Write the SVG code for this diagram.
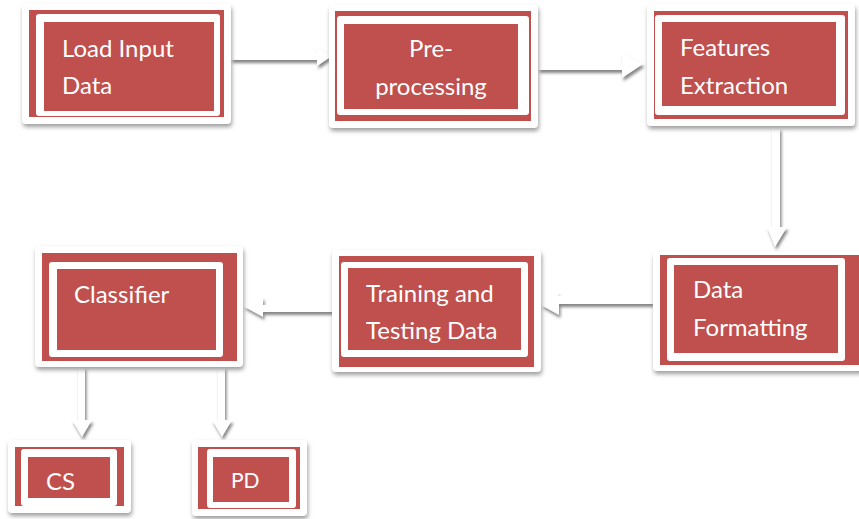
<svg xmlns="http://www.w3.org/2000/svg" width="859" height="519" viewBox="0 0 859 519">
  <defs>
    <filter id="cardShadow" x="-10%" y="-10%" width="125%" height="130%">
      <feDropShadow dx="1" dy="3" stdDeviation="2" flood-color="#7f7f7f" flood-opacity="0.75"/>
    </filter>
    <filter id="arrowShadow" x="-30%" y="-50%" width="160%" height="220%">
      <feDropShadow dx="1.5" dy="3" stdDeviation="1.8" flood-color="#6f6f6f" flood-opacity="0.85"/>
    </filter>
  </defs>
  <style>
    .card { fill: #ffffff; filter: url(#cardShadow); }
    .red { fill: #c0504d; }
    .frame { fill: #ffffff; }
    .lbl { font-family: Lato, "Liberation Sans", sans-serif; font-size: 24px; fill: #ffffff; }
    .arrow { fill: #ffffff; filter: url(#arrowShadow); }
  </style>

  <!-- connectors -->
  <g id="connectors">
    <path class="arrow" d="M231,53 H317 V47 L332,56 L317,66 V60 H231 Z"/>
    <path class="arrow" d="M538,62 H622 V53 L643,64 L622,78 V70 H538 Z"/>
    <path class="arrow" d="M772,128 V227 H767 L775,247 L787,227 H780 V128 Z"/>
    <path class="arrow" d="M653,296 H558 V292 L541,305 L559,315 V304 H653 Z"/>
    <path class="arrow" d="M333,305 H263 V297 L243,306 L263,317 V312 H333 Z"/>
    <path class="arrow" d="M78,367 V420 H72 L82,437 L92,420 H85 V367 Z"/>
    <path class="arrow" d="M218,367 V420 H212 L222,437 L232,420 H225 V367 Z"/>
  </g>

  <g id="load-input">
    <rect class="card" x="22" y="4" width="209" height="120" rx="4"/>
    <rect class="red" x="29" y="10" width="195" height="107"/>
    <rect class="frame" x="36" y="14" width="184" height="102" rx="3"/>
    <rect class="red" x="44" y="22" width="170" height="89"/>
    <text class="lbl" x="62" y="57">Load Input</text>
    <text class="lbl" x="62" y="94">Data</text>
  </g>

  <g id="pre-processing">
    <rect class="card" x="329" y="5" width="209" height="123" rx="4"/>
    <rect class="red" x="335" y="11" width="196" height="110"/>
    <rect class="frame" x="337" y="16" width="192" height="99" rx="3"/>
    <rect class="red" x="344" y="24" width="174" height="85"/>
    <text class="lbl" x="431" y="57" text-anchor="middle">Pre-</text>
    <text class="lbl" x="431" y="95" text-anchor="middle">processing</text>
  </g>

  <g id="features-extraction">
    <rect class="card" x="647" y="4" width="208" height="122" rx="4"/>
    <rect class="red" x="654" y="11" width="194" height="108"/>
    <rect class="frame" x="655" y="15" width="190" height="100" rx="3"/>
    <rect class="red" x="662" y="22" width="174" height="84"/>
    <text class="lbl" x="680" y="56">Features</text>
    <text class="lbl" x="680" y="94">Extraction</text>
  </g>

  <g id="data-formatting">
    <rect class="card" x="653" y="252" width="210" height="119" rx="4"/>
    <rect class="red" x="660" y="255" width="199" height="110"/>
    <rect class="frame" x="667" y="258" width="178" height="103" rx="3"/>
    <rect class="red" x="674" y="265" width="164" height="88"/>
    <text class="lbl" x="693" y="298">Data</text>
    <text class="lbl" x="693" y="336">Formatting</text>
  </g>

  <g id="training-testing">
    <rect class="card" x="332" y="250" width="209" height="122" rx="4"/>
    <rect class="red" x="339" y="256" width="195" height="111"/>
    <rect class="frame" x="341" y="262" width="187" height="95" rx="3"/>
    <rect class="red" x="348" y="268" width="173" height="82"/>
    <text class="lbl" x="366" y="302">Training and</text>
    <text class="lbl" x="366" y="339">Testing Data</text>
  </g>

  <g id="classifier">
    <rect class="card" x="35" y="246" width="208" height="121" rx="4"/>
    <rect class="red" x="42" y="253" width="195" height="108"/>
    <rect class="frame" x="49" y="262" width="174" height="95" rx="3"/>
    <rect class="red" x="57" y="269" width="159" height="81"/>
    <text class="lbl" x="74" y="303">Classifier</text>
  </g>

  <g id="cs">
    <rect class="card" x="8" y="440" width="123" height="73" rx="4"/>
    <rect class="red" x="15" y="447" width="109" height="59"/>
    <rect class="frame" x="21" y="449" width="96" height="57" rx="3"/>
    <rect class="red" x="28" y="457" width="82" height="41"/>
    <text class="lbl" x="46" y="490">CS</text>
  </g>

  <g id="pd">
    <rect class="card" x="192" y="440" width="115" height="76" rx="4"/>
    <rect class="red" x="198" y="447" width="102" height="62"/>
    <rect class="frame" x="207" y="449" width="89" height="59" rx="3"/>
    <rect class="red" x="213" y="457" width="76" height="45"/>
    <text class="lbl" x="231" y="488" style="font-size:21px">PD</text>
  </g>
</svg>
